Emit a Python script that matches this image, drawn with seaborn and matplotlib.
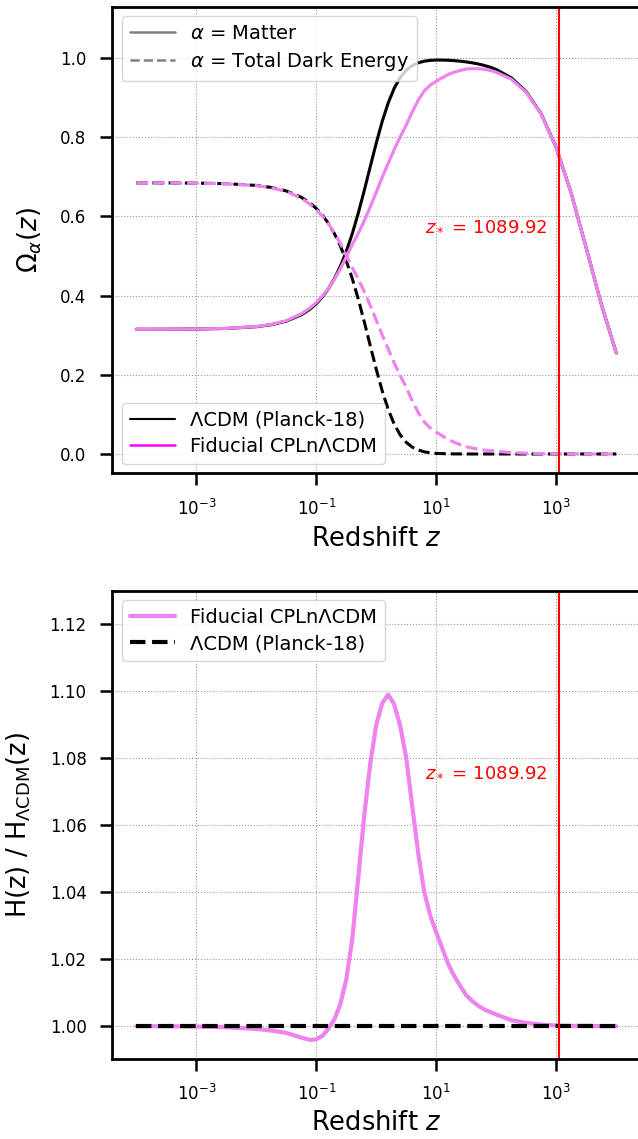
import numpy as np
import pandas as pd
import matplotlib
matplotlib.use("Agg")
import matplotlib.pyplot as plt
import seaborn as sns
from matplotlib.lines import Line2D
from matplotlib.ticker import NullLocator, FixedLocator

# ---------------- data ----------------
z = [1e-4, 3.162e-4, 1e-3, 3.162e-3, 1e-2, 1.778e-2, 3.162e-2, 5.623e-2,
     7.943e-2,
     0.1, 0.1259, 0.1585, 0.1995, 0.2512, 0.3162, 0.3981, 0.5012, 0.6310, 0.7943,
     1.0, 1.259, 1.585, 1.995, 2.512, 3.162, 3.981, 5.012, 6.310, 7.943,
     10.0, 12.59, 15.85, 19.95, 25.12, 31.62, 39.81, 50.12, 63.10, 79.43,
     100.0,
     177.8, 316.2, 562.3, 1000.0, 1778.0, 3162.0, 5623.0, 10000.0]

om_lcdm = [0.3151, 0.3152, 0.3157, 0.3171, 0.3215, 0.3266, 0.3355, 0.3514,
           0.3664,
           0.3797, 0.3963, 0.4169, 0.4425, 0.4738, 0.5118, 0.5568, 0.6086, 0.6659, 0.7263,
           0.7859, 0.8408, 0.8876, 0.9244, 0.9513, 0.9696, 0.9813, 0.9884, 0.9924, 0.9944,
           0.9952, 0.9952, 0.9947, 0.9937, 0.9923, 0.9905, 0.9882, 0.9853, 0.9816, 0.9771,
           0.9713,
           0.9504, 0.9152, 0.8587, 0.7738, 0.6581, 0.5198, 0.3784, 0.2550]

ode_lcdm = [0.6849, 0.6848, 0.6843, 0.6829, 0.6785, 0.6734, 0.6645, 0.6486,
            0.6335,
            0.6203, 0.6037, 0.5831, 0.5574, 0.5260, 0.4880, 0.4430, 0.3911, 0.3338, 0.2733,
            0.2136, 0.1586, 0.1117, 0.0748, 0.0478, 0.0292, 0.0173, 0.0099, 0.0055, 0.0030,
            0.0016, 0.0009, 0.0005, 0.0002, 0.0001, 0.0001, 0.0, 0.0, 0.0, 0.0,
            0.0,
            0.0, 0.0, 0.0, 0.0, 0.0, 0.0, 0.0, 0.0]

om_fid = [0.3151, 0.3152, 0.3158, 0.3173, 0.3220, 0.3275, 0.3368, 0.3538,
          0.3694,
          0.3827, 0.3986, 0.4176, 0.4407, 0.4677, 0.4978, 0.5289, 0.5578, 0.5893, 0.6244,
          0.6615, 0.6993, 0.7349, 0.7696, 0.8014, 0.8313, 0.8644, 0.8939, 0.9175, 0.9319,
          0.9417, 0.9506, 0.9590, 0.9646, 0.9690, 0.9725, 0.9735, 0.9734, 0.9719, 0.9690,
          0.9646,
          0.9470, 0.9134, 0.8578, 0.7735, 0.6580, 0.5197, 0.3784, 0.2550]

ode_fid = [0.6849, 0.6848, 0.6842, 0.6827, 0.6780, 0.6725, 0.6632, 0.6462,
           0.6305,
           0.6172, 0.6013, 0.5823, 0.5591, 0.5321, 0.5020, 0.4708, 0.4418, 0.4102, 0.3753,
           0.3381, 0.3002, 0.2645, 0.2297, 0.1978, 0.1677, 0.1344, 0.1046, 0.0806, 0.0657,
           0.0553, 0.0456, 0.0363, 0.0295, 0.0236, 0.0183, 0.0149, 0.0121, 0.0099, 0.0082,
           0.0069,
           0.0036, 0.0020, 0.0010, 0.0004, 0.0002, 0.0002, 0.0, 0.0]

h_ratio_fid = [1.0000, 1.0000, 0.9999, 0.9997, 0.9992, 0.9987, 0.9980, 0.9966,
               0.9959,
               0.9961, 0.9971, 0.9992, 1.0020, 1.0065, 1.0140, 1.0260, 1.0445, 1.0630, 1.0785,
               1.0900, 1.0965, 1.0990, 1.0960, 1.0895, 1.0800, 1.0655, 1.0515, 1.0400, 1.0330,
               1.0280, 1.0232, 1.0185, 1.0150, 1.0120, 1.0092, 1.0075, 1.0061, 1.0050, 1.0042,
               1.0035,
               1.0018, 1.0010, 1.0005, 1.0002, 1.0001, 1.0001, 1.0000, 1.0000]

h_ratio_lcdm = [1.0] * len(z)

z_star = 1089.92
x_ticks = [1e-3, 1e-1, 1e1, 1e3]
y_ticks_top = [0.0, 0.2, 0.4, 0.6, 0.8, 1.0]
y_ticks_bot = [1.00, 1.02, 1.04, 1.06, 1.08, 1.10, 1.12]

df = pd.DataFrame({"z": z, "om_lcdm": om_lcdm, "ode_lcdm": ode_lcdm,
                   "om_fid": om_fid, "ode_fid": ode_fid,
                   "h_fid": h_ratio_fid, "h_lcdm": h_ratio_lcdm})

# ---------------- style ----------------
sns.set_style("ticks")
plt.rcParams["font.family"] = ["DejaVu Sans"]
plt.rcParams["mathtext.fontset"] = "dejavusans"
plt.rcParams["text.color"] = "black"
plt.rcParams["axes.labelcolor"] = "black"
plt.rcParams["xtick.color"] = "black"
plt.rcParams["ytick.color"] = "black"

VIOLET = "#EE82EE"
TICK_FS = 12
LABEL_FS = 18.5
LEG_FS = 14
TXT_FS = 13

fig = plt.figure(figsize=(6.38, 11.39), dpi=100)
ax1 = fig.add_axes([0.1760, 0.58446, 0.8276, 0.40966])
ax2 = fig.add_axes([0.1760, 0.07050, 0.8276, 0.41088])


def style_axis(ax):
    ax.set_xscale("log")
    ax.xaxis.set_major_locator(FixedLocator(x_ticks))
    ax.xaxis.set_minor_locator(NullLocator())
    ax.grid(True, which="major", linestyle=":", color="#9a9a9a", linewidth=0.8)
    ax.set_axisbelow(True)
    for sp in ax.spines.values():
        sp.set_linewidth(2.0)
        sp.set_color("black")
    ax.tick_params(axis="both", which="major", direction="out", length=8.5,
                   width=1.8, pad=10, labelsize=TICK_FS, colors="black",
                   top=False, right=False)
    ax.set_xlim(10 ** -4.4, 10 ** 4.4)


# ---------------- top panel ----------------
sns.lineplot(data=df, x="z", y="om_lcdm", ax=ax1, color="black", linewidth=2.2,
             estimator=None, sort=False)
sns.lineplot(data=df, x="z", y="ode_lcdm", ax=ax1, color="black", linewidth=2.2,
             linestyle="--", estimator=None, sort=False)
sns.lineplot(data=df, x="z", y="om_fid", ax=ax1, color=VIOLET, linewidth=2.3,
             estimator=None, sort=False)
sns.lineplot(data=df, x="z", y="ode_fid", ax=ax1, color=VIOLET, linewidth=2.3,
             linestyle="--", estimator=None, sort=False)
ax1.axvline(z_star, color="red", linewidth=1.5)
ax1.text(700, 0.579, r"$z_*$ = 1089.92", color="red", fontsize=TXT_FS,
         ha="right", va="center")

style_axis(ax1)
ax1.set_ylim(-0.0488, 1.13)
ax1.yaxis.set_major_locator(FixedLocator(y_ticks_top))
ax1.set_xlabel(r"Redshift $z$", fontsize=LABEL_FS, labelpad=5)
ax1.set_ylabel(r"$\Omega_{\alpha}(z)$", fontsize=LABEL_FS, labelpad=12)

h_alpha = [Line2D([], [], color="gray", linewidth=1.8, linestyle="-"),
           Line2D([], [], color="gray", linewidth=1.8, linestyle="--")]
leg1 = ax1.legend(h_alpha, [r"$\alpha$ = Matter", r"$\alpha$ = Total Dark Energy"],
                  loc="upper left", fontsize=LEG_FS, handlelength=2.3,
                  labelspacing=0.35)
ax1.add_artist(leg1)
h_model = [Line2D([], [], color="black", linewidth=1.5),
           Line2D([], [], color="magenta", linewidth=1.8)]
ax1.legend(h_model, ["ΛCDM (Planck-18)", "Fiducial CPLnΛCDM"],
           loc="lower left", fontsize=LEG_FS, handlelength=2.3, labelspacing=0.35)

# ---------------- bottom panel ----------------
sns.lineplot(data=df, x="z", y="h_fid", ax=ax2, color=VIOLET, linewidth=3.0,
             estimator=None, sort=False, label="Fiducial CPLnΛCDM")
sns.lineplot(data=df, x="z", y="h_lcdm", ax=ax2, color="black", linewidth=3.0,
             linestyle="--", estimator=None, sort=False, label="ΛCDM (Planck-18)")
ax2.axvline(z_star, color="red", linewidth=1.5)
ax2.text(700, 1.0763, r"$z_*$ = 1089.92", color="red", fontsize=TXT_FS,
         ha="right", va="center")

style_axis(ax2)
ax2.set_ylim(0.9903, 1.13)
ax2.yaxis.set_major_locator(FixedLocator(y_ticks_bot))
ax2.set_xlabel(r"Redshift $z$", fontsize=LABEL_FS, labelpad=4)
ax2.set_ylabel(r"H(z) / H$_{\Lambda\mathrm{CDM}}$(z)", fontsize=LABEL_FS, labelpad=12)
ax2.legend(loc="upper left", fontsize=LEG_FS, handlelength=2.3, labelspacing=0.35)

fig.savefig("out.png", dpi=100)
